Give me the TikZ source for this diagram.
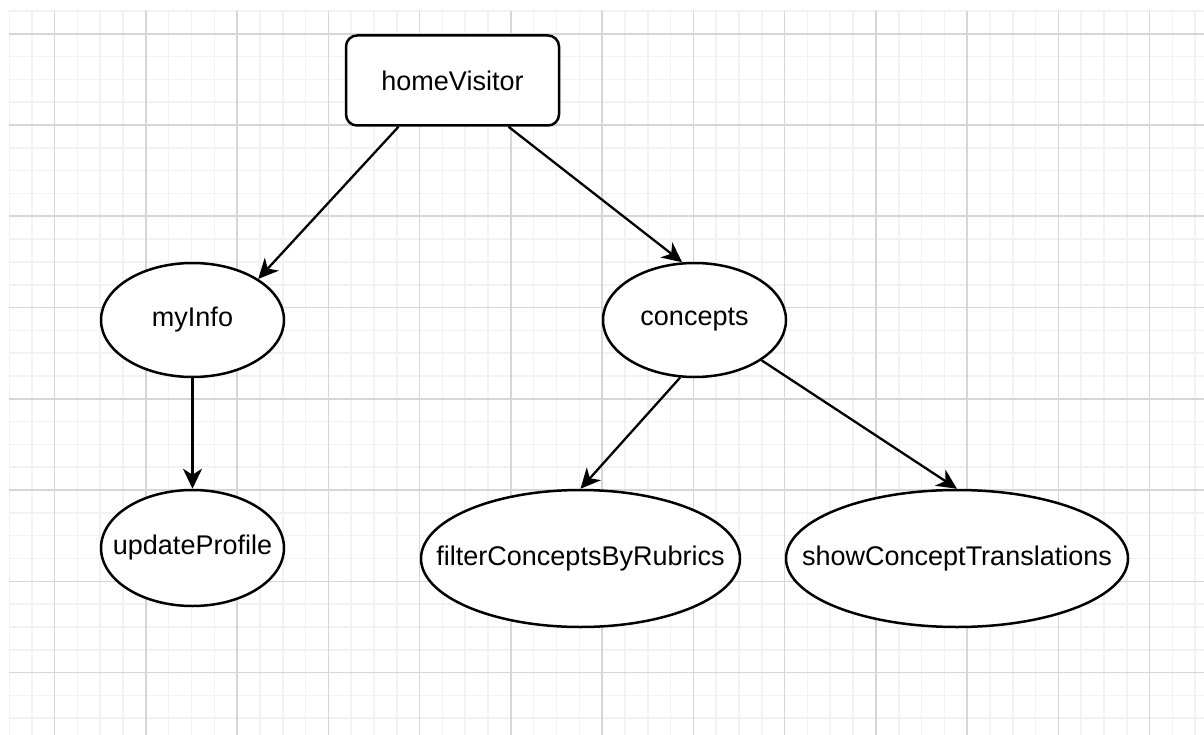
\documentclass[tikz,border=0pt]{standalone}
\usepackage{fontspec}
\setmainfont{Liberation Sans}
\usetikzlibrary{shapes.geometric,arrows.meta}

\tikzset{
  minorgrid/.style={draw=black!5, line width=1.6pt},
  majorgrid/.style={draw=black!16, line width=1.6pt},
  boxnode/.style={draw=black, fill=white, line width=2.5pt, rounded corners=11pt,
    minimum width=213pt, minimum height=90pt, inner sep=0pt,
    font=\fontsize{27}{32}\selectfont},
  ovalnode/.style={draw=black, fill=white, ellipse, line width=2.5pt, inner sep=0pt,
    font=\fontsize{27}{32}\selectfont},
  link/.style={draw=black, line width=2.3pt,
    -{Stealth[length=20pt, width=19pt, inset=6pt]}},
}

\newcommand{\ovaltext}[1]{\makebox[0pt]{#1}}

\begin{document}
\begin{tikzpicture}[x=1pt, y=-1pt]
  \useasboundingbox (0,0) rectangle (1204,735);
  \fill[white] (0,0) rectangle (1204,735);

  % background grid: minor lines every quarter of a major cell
  \begin{scope}
    \clip (9,11) rectangle (1204,735);
    \foreach \i in {0,...,53} {
      \pgfmathsetmacro{\gx}{9+22.8125*\i}
      \draw[minorgrid] (\gx,11) -- (\gx,735);
    }
    \foreach \j in {0,...,32} {
      \pgfmathsetmacro{\gy}{11+22.8125*\j}
      \draw[minorgrid] (9,\gy) -- (1204,\gy);
    }
    \foreach \i in {0,...,13} {
      \pgfmathsetmacro{\gx}{54.6+91.25*\i}
      \draw[majorgrid] (\gx,11) -- (\gx,735);
    }
    \foreach \j in {0,...,8} {
      \pgfmathsetmacro{\gy}{33.8+91.25*\j}
      \draw[majorgrid] (9,\gy) -- (1204,\gy);
    }
  \end{scope}

  % nodes
  \node[boxnode] (hv) at (452.5,80.5) {homeVisitor};
  \node[ovalnode, minimum width=183pt, minimum height=114pt] (mi) at (192.5,320) {\ovaltext{myInfo}};
  \node[ovalnode, minimum width=183pt, minimum height=114pt] (co) at (694.5,320) {\ovaltext{concepts}};
  \node[ovalnode, minimum width=183pt, minimum height=116pt] (up) at (192.5,548) {\ovaltext{updateProfile}};
  \node[ovalnode, minimum width=319pt, minimum height=137pt] (fi) at (580.5,558.5) {\ovaltext{filterConceptsByRubrics}};
  \node[ovalnode, minimum width=342pt, minimum height=137pt] (sh) at (957,558.5) {\ovaltext{showConceptTranslations}};

  % connectors
  \draw[link] ([xshift=-54pt]hv.south) -- (mi.32);
  \draw[link] ([xshift=56pt]hv.south) -- (co.102);
  \draw[link] (mi.south) -- (up.north);
  \draw[link] (co.256) -- (fi.north);
  \draw[link] (co.329) -- (sh.north);
\end{tikzpicture}
\end{document}
